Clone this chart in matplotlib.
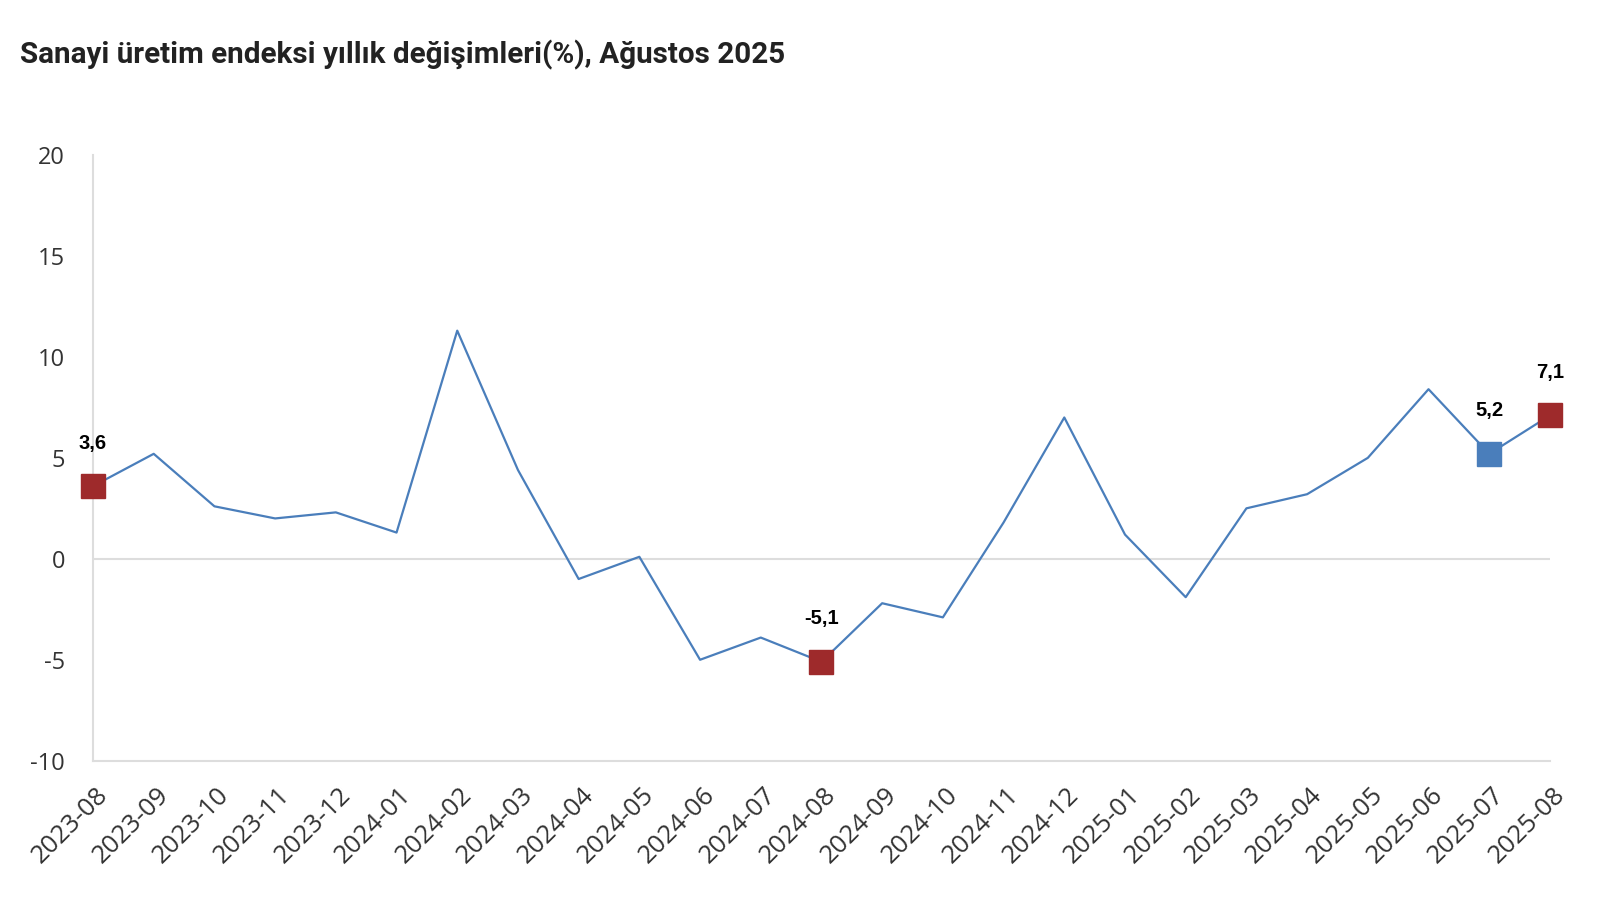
import matplotlib

matplotlib.use("Agg")
import matplotlib.pyplot as plt

months = [
    "2023-08", "2023-09", "2023-10", "2023-11", "2023-12",
    "2024-01", "2024-02", "2024-03", "2024-04", "2024-05", "2024-06",
    "2024-07", "2024-08", "2024-09", "2024-10", "2024-11", "2024-12",
    "2025-01", "2025-02", "2025-03", "2025-04", "2025-05", "2025-06",
    "2025-07", "2025-08",
]
values = [
    3.6, 5.2, 2.6, 2.0, 2.3,
    1.3, 11.3, 4.4, -1.0, 0.1, -5.0,
    -3.9, -5.1, -2.2, -2.9, 1.8, 7.0,
    1.2, -1.9, 2.5, 3.2, 5.0, 8.4,
    5.2, 7.1,
]
# highlighted points: (month, colour)
highlights = [("2023-08", "#9e2a2b"), ("2024-08", "#9e2a2b"),
              ("2025-07", "#4a7ebb"), ("2025-08", "#9e2a2b")]
yticks = [-10, -5, 0, 5, 10, 15, 20]

title = "Sanayi üretim endeksi yıllık değişimleri(%), Ağustos 2025"

fig = plt.figure(figsize=(16.12, 9.08), dpi=100)
ax = fig.add_axes([0.0577, 0.1622, 0.9038, 0.6671])

x = list(range(len(months)))
ax.plot(x, values, color="#4a7ebb", linewidth=1.6, zorder=3)
ax.axhline(0, color="#dddddd", linewidth=1.5, zorder=1)

for m, c in highlights:
    i = months.index(m)
    ax.plot(i, values[i], marker="s", markersize=17.5, color=c,
            markeredgecolor=c, zorder=4, linestyle="none", clip_on=False)
    ax.annotate(f"{values[i]:.1f}".replace(".", ","), (i, values[i]),
                xytext=(0, 24), textcoords="offset points",
                ha="center", va="bottom", fontsize=14.5, fontweight="bold",
                family="Liberation Sans", color="#000000")

ax.set_xlim(0, len(months) - 1)
ax.set_ylim(-10, 20)
ax.set_yticks(yticks)
ax.set_yticklabels([str(t) for t in yticks], fontsize=17,
                   family="Open Sans", color="#333333")

# rotated month labels, anchored just below-right of each category
ax.set_xticks(x)
ax.set_xticklabels([])
for i, m in enumerate(months):
    ax.annotate(m, (i, 0), xycoords=("data", "axes fraction"),
                xytext=(8, -22), textcoords="offset points",
                rotation=45, rotation_mode="anchor", ha="right", va="center",
                fontsize=18.5, family="Open Sans", color="#333333",
                annotation_clip=False)

ax.tick_params(axis="both", length=0)
ax.tick_params(axis="y", pad=20)

for side in ["top", "right"]:
    ax.spines[side].set_visible(False)
for side in ["left", "bottom"]:
    ax.spines[side].set_color("#dddddd")
    ax.spines[side].set_linewidth(1.5)

fig.text(20 / 1612, 1 - 55 / 908, title, fontsize=21.3, fontweight="bold",
         family="Roboto", color="#222222", ha="left", va="center")

fig.savefig("out.png", dpi=100, facecolor="white")
